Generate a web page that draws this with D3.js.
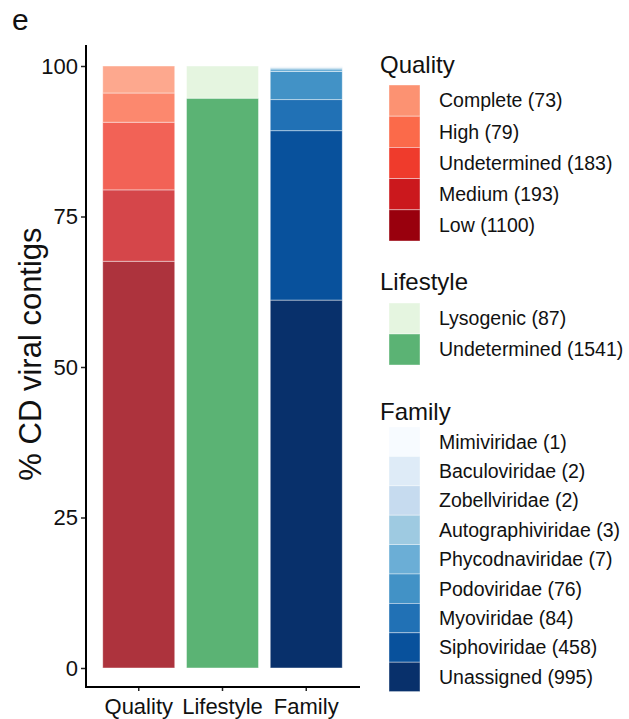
<!DOCTYPE html>
<html>
<head>
<meta charset="utf-8">
<script src="https://cdn.jsdelivr.net/npm/d3@7"></script>
<style>
  html, body { margin: 0; padding: 0; background: #fff; }
  svg { display: block; font-family: "Liberation Sans", Arial, Helvetica, sans-serif; }
</style>
</head>
<body>
<svg id="chart" width="629" height="719"></svg>
<script>
// Stack categories shown on the x axis
const groups = ["Quality", "Lifestyle", "Family"];

// Quality classes, bottom of the stack first
const qualityNames = ["Low", "Medium", "Undetermined", "High", "Complete"];
const qualityCounts = [1100, 193, 183, 79, 73];
const qualityColors = ["#99000d", "#cb181d", "#ef3b2c", "#fb6a4a", "#fc9272"];

// Lifestyle classes, bottom of the stack first
const lifestyleNames = ["Undetermined", "Lysogenic"];
const lifestyleCounts = [1541, 87];
const lifestyleColors = ["#5bb374", "#e5f5e0"];

// Family assignments, bottom of the stack first
const familyNames = ["Unassigned", "Siphoviridae", "Myoviridae", "Podoviridae",
  "Phycodnaviridae", "Autographiviridae", "Zobellviridae", "Baculoviridae", "Mimiviridae"];
const familyCounts = [995, 458, 84, 76, 7, 3, 2, 2, 1];
const familyColors = ["#08306b", "#08519c", "#2171b5", "#4292c6",
  "#6baed6", "#9ecae1", "#c6dbef", "#deebf7", "#f7fbff"];

const yTicks = [0, 25, 50, 75, 100];

const panels = [
  { key: "Quality", names: qualityNames, counts: qualityCounts, colors: qualityColors, opacity: 0.8 },
  { key: "Lifestyle", names: lifestyleNames, counts: lifestyleCounts, colors: lifestyleColors, opacity: 1 },
  { key: "Family", names: familyNames, counts: familyCounts, colors: familyColors, opacity: 1 }
];

const svg = d3.select("#chart");
const font = "\"Liberation Sans\", Arial, Helvetica, sans-serif";

// Scales
const x = d3.scaleBand().domain(groups).range([86, 359]).paddingInner(0.14).paddingOuter(0.2);
const y = d3.scaleLinear().domain([0, 100]).range([668, 66]);

// Stacked percentage segments
panels.forEach(p => {
  const total = d3.sum(p.counts);
  let cum = 0;
  const segs = p.counts.map((c, i) => {
    const s = { y0: cum, y1: cum + c / total * 100, color: p.colors[i] };
    cum = s.y1;
    return s;
  });
  svg.append("g").selectAll("rect").data(segs).join("rect")
    .attr("x", x(p.key))
    .attr("width", x.bandwidth())
    .attr("y", d => y(d.y1))
    .attr("height", d => y(d.y0) - y(d.y1))
    .attr("fill", d => d.color)
    .attr("fill-opacity", p.opacity)
    .attr("stroke", "#ffffff")
    .attr("stroke-opacity", 0.55)
    .attr("stroke-width", 0.8);
});

// Y axis
const yAxis = svg.append("g").attr("transform", "translate(86,0)")
  .call(d3.axisLeft(y).tickValues(yTicks).tickSize(5).tickPadding(3));
yAxis.select(".domain").remove();
yAxis.selectAll(".tick line").attr("stroke", "#222").attr("stroke-width", 1.5);
yAxis.selectAll(".tick text").attr("font-size", 22).attr("font-family", font).attr("fill", "#111");

// X axis
const xAxis = svg.append("g").attr("transform", "translate(0,687)")
  .call(d3.axisBottom(x).tickSize(4).tickPadding(7));
xAxis.select(".domain").remove();
xAxis.selectAll(".tick line").attr("stroke", "#222").attr("stroke-width", 1.5);
xAxis.selectAll(".tick text").attr("font-size", 22).attr("font-family", font).attr("fill", "#111");

// Axis lines
svg.append("line").attr("x1", 86).attr("x2", 86).attr("y1", 45).attr("y2", 688)
  .attr("stroke", "#000").attr("stroke-width", 2);
svg.append("line").attr("x1", 85).attr("x2", 360).attr("y1", 687).attr("y2", 687)
  .attr("stroke", "#000").attr("stroke-width", 2);

// Y axis title
svg.append("text")
  .attr("transform", "translate(41,354) rotate(-90)")
  .attr("text-anchor", "middle")
  .attr("font-size", 31)
  .attr("font-family", font)
  .attr("fill", "#111")
  .text("% CD viral contigs");

// Panel letter
svg.append("text").attr("x", 12).attr("y", 30)
  .attr("font-size", 30).attr("font-family", font).attr("fill", "#111").text("e");

// Legends (top of the stack listed first)
const legendSpecs = [
  { title: "Quality", titleY: 73, top: 85, h: 31.2, panel: panels[0] },
  { title: "Lifestyle", titleY: 290, top: 303, h: 31, panel: panels[1] },
  { title: "Family", titleY: 420, top: 427, h: 29.4, panel: panels[2] }
];

legendSpecs.forEach(L => {
  const g = svg.append("g");
  g.append("text").attr("x", 380).attr("y", L.titleY)
    .attr("font-size", 24).attr("font-family", font).attr("fill", "#111").text(L.title);
  const items = L.panel.names.map((n, i) => ({
    label: `${n} (${L.panel.counts[i]})`, color: L.panel.colors[i]
  })).reverse();
  items.forEach((it, i) => {
    const top = L.top + i * L.h;
    g.append("rect").attr("x", 389).attr("y", top).attr("width", 31).attr("height", L.h)
      .attr("fill", it.color).attr("stroke", "#ffffff").attr("stroke-opacity", 0.5).attr("stroke-width", 0.8);
    g.append("text").attr("x", 439).attr("y", top + L.h / 2).attr("dy", "0.35em")
      .attr("font-size", 19.5).attr("font-family", font).attr("fill", "#111").text(it.label);
  });
});
</script>
</body>
</html>
